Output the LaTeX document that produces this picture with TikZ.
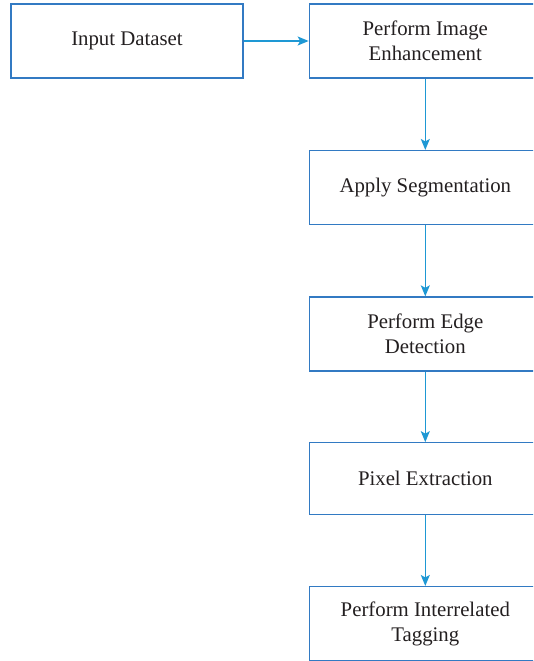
\documentclass[tikz,border=0pt]{standalone}
\usepackage{fontspec}
\setmainfont{Liberation Serif}
\usetikzlibrary{arrows.meta}
\definecolor{boxblue}{RGB}{50,122,195}
\definecolor{arrowblue}{RGB}{30,152,212}
\definecolor{txt}{RGB}{35,31,32}
\tikzset{
  stepbox/.style={draw=boxblue, line width=1.3pt, minimum width=232pt, minimum height=74pt,
    inner sep=0pt, align=center, text=txt, font=\fontsize{20.8pt}{25pt}\selectfont},
  flow/.style={draw=arrowblue, line width=1.3pt, -{Stealth[length=11pt,width=9pt,inset=2.5pt]}}
}
\begin{document}
\begin{tikzpicture}[x=1pt,y=-1pt]
\useasboundingbox (0,0) rectangle (533,661);
\clip (0,0) rectangle (533,661);
\node[stepbox] (input) at (127,41) {Input Dataset};
\node[stepbox] (enh) at (425.3,41) {Perform Image\\Enhancement};
\node[stepbox] (seg) at (425.3,187.6) {Apply Segmentation};
\node[stepbox] (edge) at (425.3,334) {Perform Edge\\Detection};
\node[stepbox, minimum height=72pt] (pix) at (425.3,478.8) {Pixel Extraction};
\node[stepbox] (tag) at (425.3,623.6) {Perform Interrelated\\Tagging};
\draw[flow] (input) -- (enh);
\draw[flow] (enh) -- (seg);
\draw[flow] (seg) -- (edge);
\draw[flow] (edge) -- (pix);
\draw[flow] (pix) -- (tag);
\end{tikzpicture}
\end{document}
